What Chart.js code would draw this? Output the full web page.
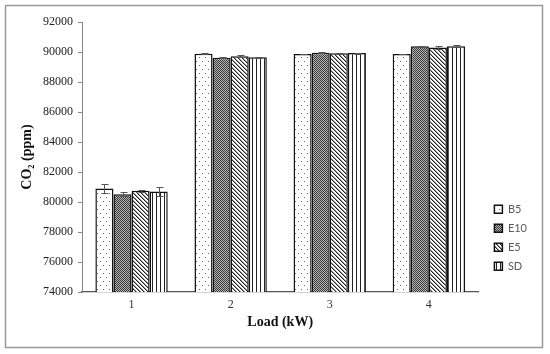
<!DOCTYPE html>
<html><head><meta charset="utf-8">
<script src="https://cdn.jsdelivr.net/npm/chart.js@4.4.1/dist/chart.umd.min.js"></script>
<style>html,body{margin:0;padding:0;background:#fff;}#wrap{width:550px;height:354px;position:relative;}</style>
</head><body><div id="wrap"><canvas id="c" width="550" height="354"></canvas></div>
<script>
const categories = ['1', '2', '3', '4'];
const seriesNames = ['B5', 'E10', 'E5', 'SD'];
const b5 = [80900, 89880, 89870, 89870];
const e10 = [80520, 89620, 89950, 90380];
const e5 = [80750, 89720, 89920, 90300];
const sd = [80700, 89650, 89930, 90380];
const b5Err = [300, 40, 30, 30];
const e10Err = [120, 40, 30, 40];
const e5Err = [70, 50, 30, 120];
const sdErr = [330, 50, 30, 60];
const yTicks = [74000, 76000, 78000, 80000, 82000, 84000, 86000, 88000, 90000, 92000];

function makePattern(w, h, draw) {
  const c = document.createElement('canvas'); c.width = w; c.height = h;
  const x = c.getContext('2d'); draw(x, w, h);
  return x.createPattern(c, 'repeat');
}
const dotPat = makePattern(6, 8, (x) => { x.fillStyle = '#fff'; x.fillRect(0, 0, 6, 8); x.fillStyle = '#666'; x.fillRect(1, 1, 1, 1); x.fillRect(4, 5, 1, 1); });
const checkPat = makePattern(2, 2, (x) => { x.fillStyle = '#b4b4b4'; x.fillRect(0, 0, 2, 2); x.fillStyle = '#3a3a3a'; x.fillRect(0, 0, 1, 1); x.fillRect(1, 1, 1, 1); });
const diagPat = makePattern(4, 4, (x) => { x.fillStyle = '#fff'; x.fillRect(0, 0, 4, 4); for (let i = 0; i < 4; i++) { x.fillStyle = '#222'; x.fillRect(i, i, 1, 1); x.fillStyle = '#999'; x.fillRect((i + 1) % 4, i, 1, 1); } });
const vertPat = makePattern(4, 1, (x) => { x.fillStyle = '#fff'; x.fillRect(0, 0, 4, 1); x.fillStyle = '#222'; x.fillRect(0, 0, 1, 1); });

const values = [b5, e10, e5, sd];
const errs = [b5Err, e10Err, e5Err, sdErr];
const fills = [dotPat, checkPat, diagPat, vertPat];

const errPlugin = {
  id: 'errbars',
  afterDatasetsDraw(chart) {
    const ctx = chart.ctx, y = chart.scales.y;
    errs.forEach((arr, i) => {
      const meta = chart.getDatasetMeta(i);
      meta.data.forEach((bar, j) => {
        const v = values[i][j];
        const t = Math.round(y.getPixelForValue(v + arr[j])) + 0.5;
        const b = Math.round(y.getPixelForValue(v - arr[j])) + 0.5;
        const x = Math.round(bar.x) + 0.5;
        ctx.save(); ctx.strokeStyle = '#555'; ctx.lineWidth = 1;
        ctx.beginPath();
        ctx.moveTo(x, t); ctx.lineTo(x, b);
        ctx.moveTo(x - 3, t); ctx.lineTo(x + 4, t);
        ctx.moveTo(x - 3, b); ctx.lineTo(x + 4, b);
        ctx.stroke(); ctx.restore();
      });
    });
  }
};
const framePlugin = {
  id: 'frame',
  beforeDraw(chart) {
    const ctx = chart.ctx;
    ctx.save(); ctx.fillStyle = '#fff'; ctx.fillRect(0, 0, chart.width, chart.height);
    ctx.strokeStyle = '#9a9a9a'; ctx.lineWidth = 1.5;
    ctx.strokeRect(5.5, 5.5, 537, 342); ctx.restore();
  }
};

new Chart(document.getElementById('c'), {
  type: 'bar',
  data: {
    labels: categories,
    datasets: seriesNames.map((n, i) => ({
      label: n, data: values[i], backgroundColor: fills[i], borderColor: '#111', borderWidth: 1.5,
      borderSkipped: false, categoryPercentage: 0.73, barPercentage: 1.0
    }))
  },
  options: {
    responsive: false, animation: false, devicePixelRatio: 1,
    layout: { padding: { left: 5, top: 22, right: 13, bottom: 20 } },
    plugins: {
      tooltip: { enabled: false },
      legend: {
        position: 'right',
        title: { display: true, text: ' ', font: { size: 8 }, padding: { top: 0, bottom: 110 } },
        labels: { boxWidth: 8, boxHeight: 8, padding: 8, color: '#595959', font: { family: 'Lato', size: 11 } }
      }
    },
    scales: {
      x: {
        grid: { display: false, drawTicks: false },
        border: { display: true, color: '#555', width: 1.2 },
        ticks: { color: '#333', padding: 6, font: { family: 'Liberation Serif', size: 12 } },
        title: { display: true, text: 'Load (kW)', color: '#111', font: { family: 'Liberation Serif', size: 14, weight: 'bold' }, padding: { top: 0, bottom: 3 } },
        afterFit(s) { s.height = 42; }
      },
      y: {
        min: 74000, max: 92000,
        afterBuildTicks(s) { s.ticks = yTicks.map(v => ({ value: v })); },
        grid: { display: true, drawOnChartArea: false, drawTicks: true, tickLength: 4, color: '#888' },
        border: { display: true, color: '#888', width: 1 },
        ticks: { color: '#222', padding: 5, font: { family: 'Liberation Serif', size: 12 }, callback: v => String(v) },
        title: { display: true, text: 'CO\u2082 (ppm)', color: '#111', font: { family: 'Liberation Serif', size: 14, weight: 'bold' }, padding: { top: 14, bottom: 0 } },
        afterFit(s) { s.width = 77; }
      },
      yPad: {
        type: 'linear', position: 'right', display: true,
        grid: { display: false, drawTicks: false }, border: { display: false }, ticks: { display: false },
        afterFit(s) { s.width = 8; }
      }
    }
  },
  plugins: [framePlugin, errPlugin]
});
</script></body></html>
